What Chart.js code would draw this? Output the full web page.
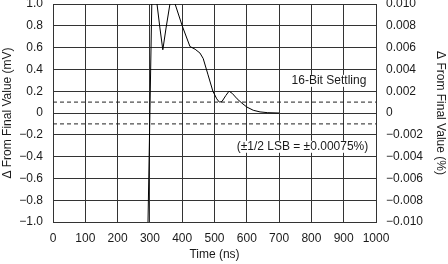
<!DOCTYPE html>
<html>
<head>
<meta charset="utf-8">
<script src="https://cdn.jsdelivr.net/npm/chart.js@4"></script>
<style>
  html,body{margin:0;padding:0;background:#fff;}
  #wrap{width:448px;height:264px;position:relative;}
</style>
</head>
<body>
<div id="wrap"><canvas id="c"></canvas></div>
<script>
// settling waveform, time in ns, value in mV (goes off-scale near the step)
const timeNs  = [293, 307, 313, 322, 331, 340, 350, 362, 368, 378, 400, 424, 440, 455, 465, 480, 495, 507, 515, 523, 535, 545, 555, 570, 585, 600, 620, 641, 665, 700];
const deltaMv = [-1.2, 1.2, 1.4, 1.0, 0.78, 0.58, 0.78, 1.0, 1.2, 1.0, 0.8, 0.61, 0.585, 0.55, 0.5, 0.35, 0.2, 0.13, 0.1, 0.105, 0.16, 0.2, 0.18, 0.13, 0.09, 0.055, 0.025, 0.01, 0.003, 0.0];

// ±1/2 LSB band
const bandX = [0, 1000];
const bandHi = [0.1, 0.1];
const bandLo = [-0.1, -0.1];

const xTicks = ['0','100','200','300','400','500','600','700','800','900','1000'];
const yTicks = ['−1.0','−0.8','−0.6','−0.4','−0.2','0','0.2','0.4','0.6','0.8','1.0'];
const y2Ticks = ['−0.010','−0.008','−0.006','−0.004','−0.002','0','0.002','0.004','0.006','0.008','0.010'];

const notes = [
  {text:'16-Bit Settling', x:970, y:0.295},
  {text:'(±1/2 LSB = ±0.00075%)', x:976, y:-0.31}
];

const FONT = {family:'"Liberation Sans", Arial, sans-serif', size:12};
const INK = '#1a1a1a';
const GRID = '#333';

const notePlugin = {
  id:'notes',
  afterDraw(chart){
    const ctx = chart.ctx, xs = chart.scales.x, ys = chart.scales.y;
    ctx.save();
    ctx.font = FONT.size + 'px ' + FONT.family;
    ctx.textBaseline = 'middle';
    ctx.textAlign = 'right';
    notes.forEach(n=>{
      const px = xs.getPixelForValue(n.x), py = ys.getPixelForValue(n.y);
      const w = ctx.measureText(n.text).width;
      ctx.fillStyle = '#fff';
      ctx.fillRect(px - w - 3, py - 6, w + 6, 12);
      ctx.fillStyle = INK;
      ctx.fillText(n.text, px, py);
    });
    ctx.restore();
  }
};

const pts = (xa, ya) => xa.map((x,i)=>({x, y:ya[i]}));

new Chart(document.getElementById('c'), {
  type:'line',
  data:{ datasets:[
    {data: pts(timeNs, deltaMv), borderColor:'#000', borderWidth:1, pointRadius:0, tension:0, fill:false},
    {data: pts(bandX, bandHi), borderColor:'#222', borderWidth:1, borderDash:[4,3], pointRadius:0, fill:false},
    {data: pts(bandX, bandLo), borderColor:'#222', borderWidth:1, borderDash:[4,3], pointRadius:0, fill:false},
  ]},
  options:{
    responsive:true, maintainAspectRatio:false, animation:false,
    layout:{padding:{top:4, right:0, left:0, bottom:0}},
    plugins:{legend:{display:false}, tooltip:{enabled:false}},
    scales:{
      x:{ type:'linear', min:0, max:1000,
        ticks:{stepSize:100, color:INK, font:FONT, padding:9, maxRotation:0, callback:(v,i)=>xTicks[i]},
        grid:{color:GRID, lineWidth:1, drawTicks:false},
        border:{color:GRID, width:1},
        title:{display:true, text:'Time (ns)', color:INK, font:FONT, padding:{top:0,bottom:2}},
        afterFit(s){ s.height = 42; s.paddingLeft = 0; s.paddingRight = 0; }
      },
      y:{ position:'left', min:-1, max:1,
        ticks:{stepSize:0.2, color:INK, font:FONT, padding:10, callback:(v,i)=>yTicks[i]},
        grid:{color:GRID, lineWidth:1, drawTicks:false},
        border:{color:GRID, width:1},
        title:{display:true, text:'Δ From Final Value (mV)', color:INK, font:FONT, padding:{top:0,bottom:0}},
        afterFit(s){ s.width = 53; s.paddingTop = 0; s.paddingBottom = 0; }
      },
      y2:{ position:'right', min:-0.01, max:0.01,
        ticks:{stepSize:0.002, color:INK, font:FONT, padding:10, callback:(v,i)=>y2Ticks[i]},
        grid:{display:false, drawTicks:false},
        border:{color:GRID, width:1},
        title:{display:true, text:'Δ From Final Value (%)', color:INK, font:FONT, padding:{top:0,bottom:1}},
        afterFit(s){ s.width = 72; s.paddingTop = 0; s.paddingBottom = 0; }
      }
    }
  },
  plugins:[notePlugin]
});
</script>
</body>
</html>
